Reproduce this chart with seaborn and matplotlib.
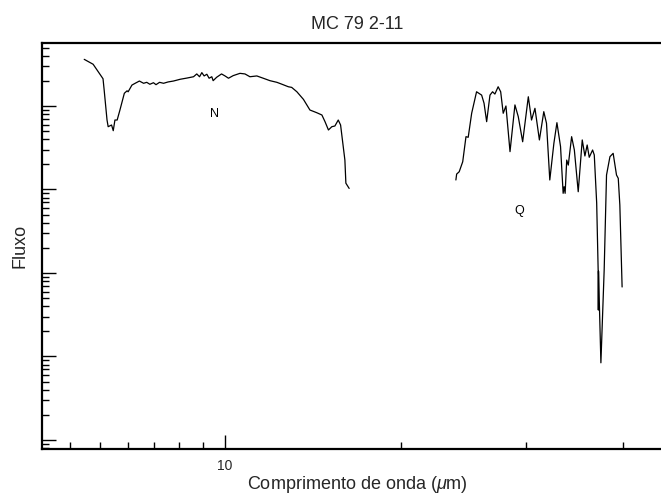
import matplotlib
matplotlib.use("Agg")
import matplotlib.pyplot as plt
from matplotlib.ticker import FixedLocator, NullFormatter, LogLocator, FixedFormatter
import pandas as pd
import seaborn as sns

# ---- data (wavelength in micron, flux arbitrary log units)
n_wl = [7.23, 7.38, 7.55, 7.57, 7.62, 7.64, 7.70, 7.73, 7.76, 7.80, 7.85, 7.93, 7.98, 8.00,
        8.07, 8.13, 8.21, 8.29, 8.35, 8.41, 8.48, 8.53, 8.60, 8.68, 8.77, 8.88, 9.02, 9.16,
        9.30, 9.37, 9.43, 9.48, 9.53, 9.59, 9.64, 9.70, 9.73, 9.81, 9.92, 10.00, 10.08,
        10.19, 10.35, 10.47, 10.59, 10.76, 10.92, 11.09, 11.27, 11.39, 11.57, 11.66, 11.80,
        11.98, 12.16, 12.35, 12.50, 12.59, 12.69, 12.79, 12.88, 12.98, 13.05, 13.13, 13.18,
        13.21, 13.31]
n_fx = [362, 316, 212, 155, 67.9, 56.5, 59.2, 50.6, 67.9, 67.9, 89.5, 142, 152, 148,
        178, 187, 199, 187, 192, 182, 190, 180, 192, 187, 194, 199, 209, 216,
        224, 242, 224, 251, 229, 240, 215, 224, 201, 221, 242, 229, 215,
        231, 246, 242, 224, 229, 215, 201, 192, 183, 170, 167, 148,
        120, 89.5, 83.2, 78.0, 64.9, 51.6, 56.5, 57.6, 67.9, 59.2, 32.6, 22.5,
        11.9, 10.3]

q_wl = [17.02, 17.05, 17.15, 17.29, 17.42, 17.51, 17.65, 17.85, 18.06, 18.16, 18.27, 18.41,
        18.52, 18.62, 18.76, 18.87, 18.98, 19.10, 19.28, 19.50, 19.65, 19.85, 20.11, 20.26,
        20.42, 20.63, 20.84, 20.97, 21.13, 21.33, 21.48, 21.66, 21.79, 21.84, 21.89, 21.97,
        22.05, 22.22, 22.36, 22.56, 22.77, 22.91, 23.03, 23.14, 23.32, 23.41, 23.54, 23.62,
        23.63, 23.64, 23.77, 23.95, 24.08, 24.27, 24.45, 24.64, 24.74, 24.83, 24.96]
q_fx = [13.0, 15.3, 16.3, 21.5, 42.9, 42.2, 81.8, 148, 135, 108, 64.9, 135,
        148, 139, 170, 148, 81.8, 100, 28.4, 103, 74.5, 37.3, 129, 67.9,
        93.8, 39.2, 85.5, 62.1, 13.0, 35.7, 63.1, 32.6, 9.0, 10.8, 9.0, 22.5,
        19.6, 42.9, 29.7, 9.4, 39.2, 25.2, 34.1, 24.3, 29.7, 25.9, 6.89, 1.09,
        0.36, 1.05, 0.084, 1.09, 14.9, 24.7, 27.1, 14.9, 13.6, 6.52, 0.68]

band_labels = ["N", "Q"]
band_label_pos = [(9.77, 80.2), (19.70, 5.53)]
x_major = [10]
x_major_labels = ["10"]
x_minor = [7, 7.5, 8, 8.5, 9, 9.5, 15, 20, 25]

title = "MC 79 2-11"
xlabel = "Comprimento de onda ($\\mathit{\\mu}$m)"
ylabel = "Fluxo"

df = pd.concat([
    pd.DataFrame({"wl": n_wl, "flux": n_fx, "band": "N"}),
    pd.DataFrame({"wl": q_wl, "flux": q_fx, "band": "Q"}),
], ignore_index=True)

sns.set_style("ticks")
plt.rcParams["font.family"] = ["Liberation Sans", "DejaVu Sans"]
plt.rcParams["mathtext.fontset"] = "custom"
plt.rcParams["mathtext.rm"] = "Liberation Sans"
plt.rcParams["mathtext.it"] = "Liberation Sans:italic"

fig = plt.figure(figsize=(6.61, 4.96), dpi=100)
ax = fig.add_axes([42 / 661, 1 - 449 / 496, (672 - 42) / 661, (449 - 43) / 496])

sns.lineplot(data=df, x="wl", y="flux", units="band", estimator=None, sort=False,
             color="black", lw=0.9, ax=ax, legend=False)

ax.set_xscale("log")
ax.set_yscale("log")
ax.set_xlim(6.56, 28.0)
ax.set_ylim(0.0078, 568)

ax.xaxis.set_major_locator(FixedLocator(x_major))
ax.xaxis.set_major_formatter(FixedFormatter(x_major_labels))
ax.xaxis.set_minor_locator(FixedLocator(x_minor))
ax.xaxis.set_minor_formatter(NullFormatter())
ax.yaxis.set_major_locator(LogLocator(base=10))
ax.yaxis.set_minor_locator(LogLocator(base=10, subs=range(2, 10)))
ax.yaxis.set_major_formatter(NullFormatter())
ax.yaxis.set_minor_formatter(NullFormatter())

ax.tick_params(which="both", direction="in", top=False, right=False, width=1.0,
               color="black")
ax.tick_params(which="major", length=10, labelsize=10, pad=7)
ax.tick_params(which="minor", length=5)

for s in ["left", "bottom", "top"]:
    ax.spines[s].set_linewidth(1.6)
    ax.spines[s].set_color("black")
ax.spines["right"].set_visible(False)

for lab, (x, y) in zip(band_labels, band_label_pos):
    ax.text(x, y, lab, ha="center", va="center", fontsize=9, color="black")

ax.set_title(title, fontsize=13, pad=10)
ax.set_xlabel(xlabel, fontsize=13, labelpad=1)
ax.set_ylabel(ylabel, fontsize=13, labelpad=3)

fig.savefig("out.png", dpi=100)
